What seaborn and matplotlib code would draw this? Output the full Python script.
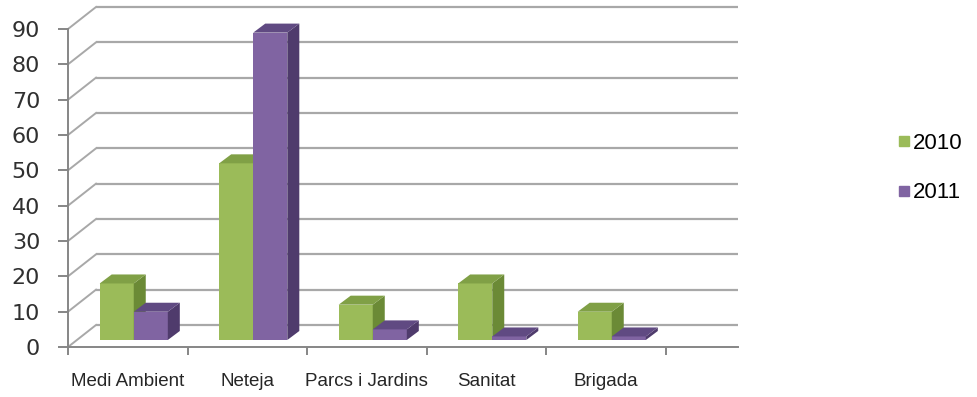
import matplotlib
matplotlib.use('Agg')
import matplotlib.pyplot as plt
import seaborn as sns
import pandas as pd
from matplotlib.patches import Polygon
from matplotlib.lines import Line2D

# Data
areas = ['Medi Ambient', 'Neteja', 'Parcs i Jardins', 'Sanitat', 'Brigada']
years = ['2010', '2011']
values_2010 = [16, 50, 10, 16, 8]
values_2011 = [8, 87, 3, 1, 1]
y_ticks = [0, 10, 20, 30, 40, 50, 60, 70, 80, 90]

# Excel-like colours: front face, side face, top face
green = ['#9bbb59', '#6b8a36', '#80a046']
purple = ['#8064a2', '#4f3b6c', '#604a82']
grid_color = '#a8a8a8'
axis_color = '#868686'

df = pd.DataFrame({
    'area': areas * 2,
    'year': [years[0]] * len(areas) + [years[1]] * len(areas),
    'value': values_2010 + values_2011,
})

fig = plt.figure(figsize=(9.77, 3.97), dpi=100)
ax = fig.add_axes([68 / 977, 50 / 397, 670 / 977, 318 / 397])

sns.barplot(data=df, x='area', y='value', hue='year', order=areas, hue_order=years,
            palette=[green[0], purple[0]], width=0.57, saturation=1, linewidth=0,
            errorbar=None, legend=False, ax=ax)

# Axis ranges: one category is ~119.5 px wide, the front axis runs 68..738 px
xmax = -0.5 + 670 / 119.5
ax.set_xlim(-0.5, xmax)
ax.set_ylim(0, 90)

# pixels per data unit
p0 = ax.transData.transform((0, 0))
p1 = ax.transData.transform((1, 10))
ux = p1[0] - p0[0]
uy = (p1[1] - p0[1]) / 10

# Back wall: gridlines pushed back in depth, with diagonals to the front axis
bx, by = 28 / ux, 22 / uy
for v in y_ticks:
    ax.plot([-0.5 + bx, xmax], [v + by, v + by], color=grid_color, lw=1.6,
            clip_on=False, zorder=1, solid_capstyle='butt')
    ax.plot([-0.5, -0.5 + bx], [v, v + by], color=grid_color, lw=1.4,
            clip_on=False, zorder=1)

# Pseudo 3D bars: move the bars to mid depth and add side/top faces
sx, sy = 6 / ux, 7 / uy
dx, dy = 12 / ux, 9 / uy
for container, cols, z in zip(ax.containers, [green, purple], [3, 4]):
    for bar in container:
        bar.set_x(bar.get_x() + sx)
        bar.set_y(sy)
        bar.set_zorder(z)
        bar.set_clip_on(False)
        x, y0, w, h = bar.get_x(), bar.get_y(), bar.get_width(), bar.get_height()
        y1 = y0 + h
        side = Polygon([(x + w, y0), (x + w + dx, y0 + dy), (x + w + dx, y1 + dy), (x + w, y1)],
                       closed=True, facecolor=cols[1], edgecolor='none', zorder=z, clip_on=False)
        top = Polygon([(x, y1), (x + dx, y1 + dy), (x + w + dx, y1 + dy), (x + w, y1)],
                      closed=True, facecolor=cols[2], edgecolor='none', zorder=z, clip_on=False)
        ax.add_patch(side)
        ax.add_patch(top)

# Front axes
for s in ['top', 'right']:
    ax.spines[s].set_visible(False)
for s in ['left', 'bottom']:
    ax.spines[s].set_color(axis_color)
    ax.spines[s].set_linewidth(1.4)
    ax.spines[s].set_zorder(2)

ax.set_yticks(y_ticks)
ax.set_yticklabels([str(v) for v in y_ticks], fontsize=16, family='DejaVu Sans', color='#303030')
ax.tick_params(axis='y', length=7, width=1.4, color=axis_color, pad=13)

ax.set_xticks([i - 0.5 for i in range(len(areas) + 1)])
ax.set_xticklabels([''] * (len(areas) + 1))
ax.set_xticks(range(len(areas)), minor=True)
ax.set_xticklabels(areas, minor=True, fontsize=13.5, family='Liberation Sans', color='#262626')
ax.tick_params(axis='x', which='major', length=6, width=1.4, color=axis_color)
ax.tick_params(axis='x', which='minor', length=0, pad=19)
ax.set_xlabel('')
ax.set_ylabel('')
ax.patch.set_alpha(0)

# Legend on the right
handles = [Line2D([], [], marker='s', ls='', color=c[0], markersize=7.5) for c in [green, purple]]
fig.legend(handles, years, loc='center left', bbox_to_anchor=(897 / 977, 1 - 168 / 397),
           bbox_transform=fig.transFigure, frameon=False,
           prop={'family': 'Liberation Sans', 'size': 16},
           handlelength=0.6, handletextpad=0.12, labelspacing=1.3,
           borderpad=0, borderaxespad=0)

fig.savefig('out.png', dpi=100)
